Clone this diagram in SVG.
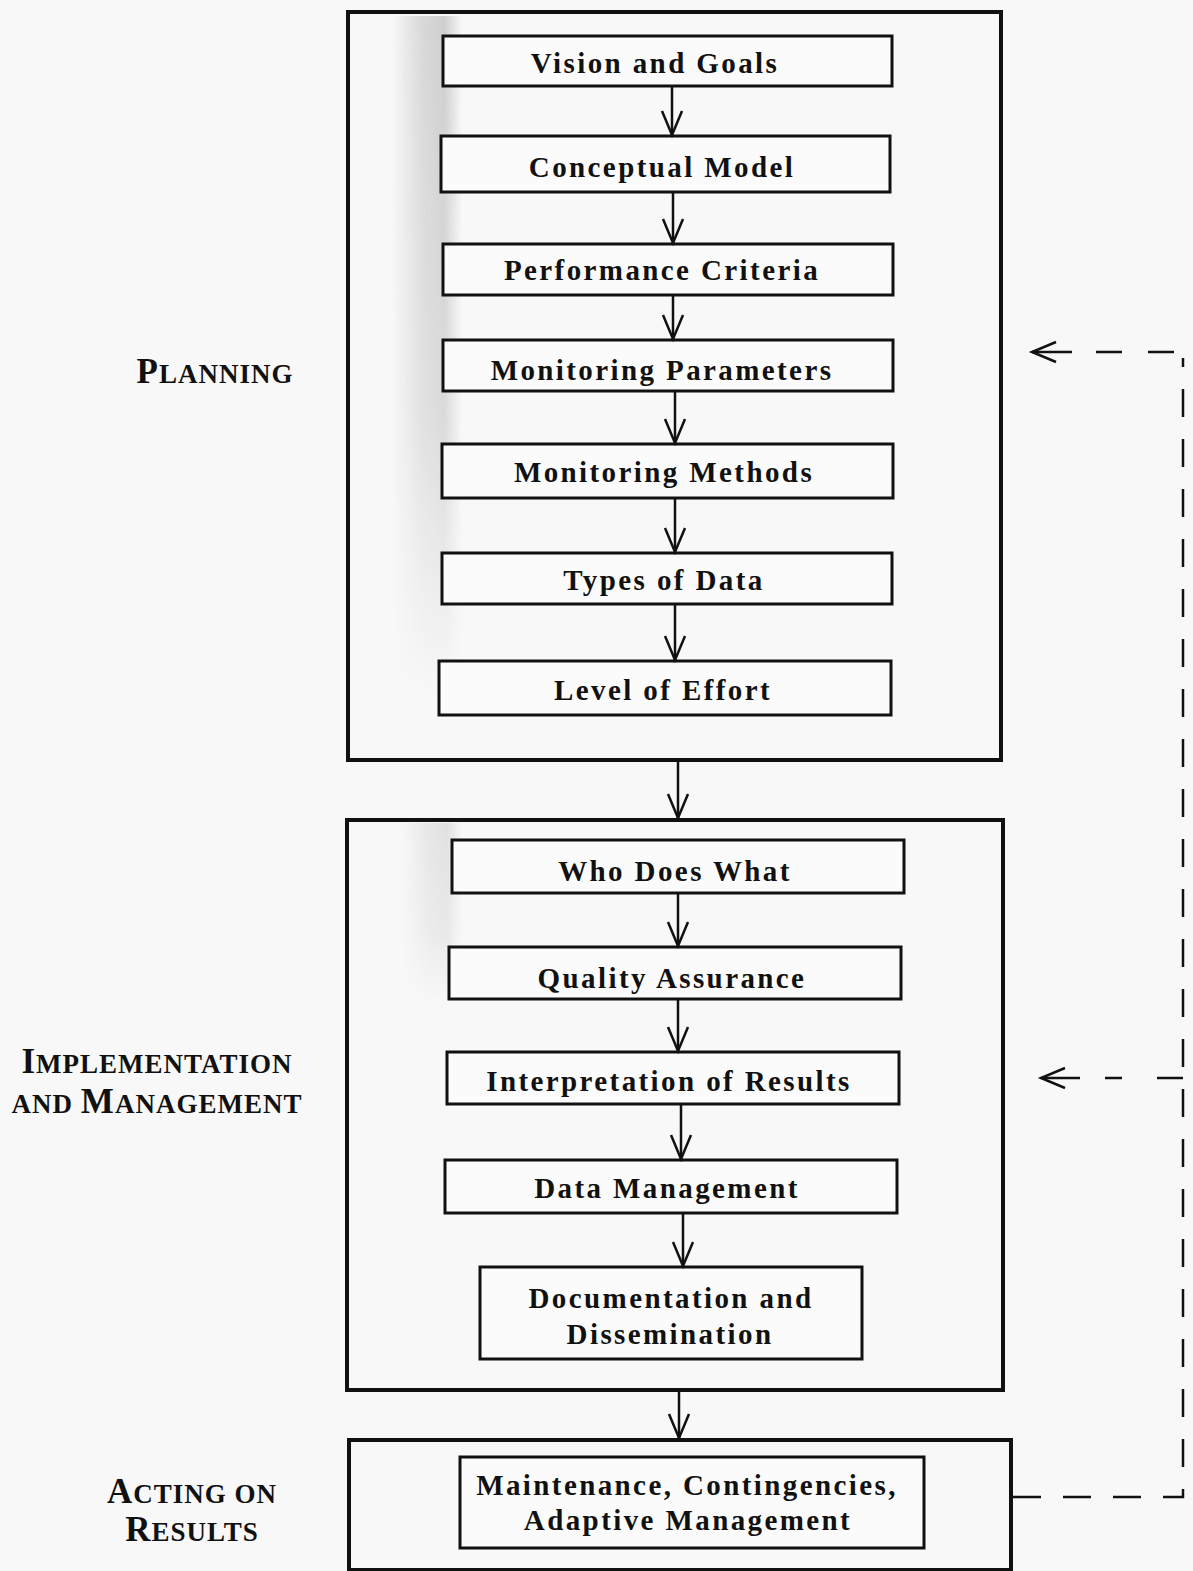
<svg xmlns="http://www.w3.org/2000/svg" width="1193" height="1571" viewBox="0 0 1193 1571">
<style>
.outer{fill:none;stroke:#111;stroke-width:4}
.box{fill:#fbfbfb;stroke:#111;stroke-width:3}
.t{font-family:"Liberation Serif","Times New Roman",serif;font-weight:bold;font-size:29px;letter-spacing:2.4px;fill:#111;text-anchor:middle}
.lab{font-family:"Liberation Serif","Times New Roman",serif;font-weight:bold;fill:#111;letter-spacing:1px;text-anchor:middle}
.big{font-size:35px}
.sm{font-size:27px}
.arr{fill:none;stroke:#111;stroke-width:2.5}
.dash{fill:none;stroke:#111;stroke-width:2.5}
</style>
<defs>
<marker id="ah" viewBox="-28 -13 31 26" markerWidth="31" markerHeight="26" refX="0" refY="0" orient="auto-start-reverse" markerUnits="userSpaceOnUse" overflow="visible">
<path d="M-24,-10 L0,0 L-24,10" fill="none" stroke="#111" stroke-width="2.5" stroke-dasharray="none"/>
</marker>
<linearGradient id="shade" x1="0" y1="0" x2="1" y2="0">
<stop offset="0" stop-color="#bdbdbd" stop-opacity="0"/>
<stop offset="0.45" stop-color="#bdbdbd" stop-opacity="0.55"/>
<stop offset="0.75" stop-color="#bdbdbd" stop-opacity="0.7"/>
<stop offset="1" stop-color="#bdbdbd" stop-opacity="0"/>
</linearGradient>
<linearGradient id="fadev" x1="0" y1="0" x2="0" y2="1">
<stop offset="0" stop-color="#fff" stop-opacity="1"/>
<stop offset="0.6" stop-color="#fff" stop-opacity="0.7"/>
<stop offset="1" stop-color="#fff" stop-opacity="0"/>
</linearGradient>
<mask id="fm" maskContentUnits="objectBoundingBox"><rect x="0" y="0" width="1" height="1" fill="url(#fadev)"/></mask>
</defs>
<rect x="0" y="0" width="1193" height="1571" fill="#f8f8f8"/>

<g id="shading">
<rect x="392" y="16" width="70" height="680" fill="url(#shade)" mask="url(#fm)"/>
<rect x="402" y="823" width="60" height="180" fill="url(#shade)" opacity="0.55" mask="url(#fm)"/>
</g>

<g id="planning-group">
<rect class="outer" x="348" y="12" width="653" height="748"/>
<text class="lab" x="215" y="383"><tspan class="big">P</tspan><tspan class="sm">LANNING</tspan></text>
</g>
<g id="vision"><rect class="box" x="443" y="36" width="449" height="50"/><text class="t" x="655" y="73">Vision and Goals</text></g>
<g id="conceptual"><rect class="box" x="441" y="136" width="449" height="56"/><text class="t" x="662" y="177">Conceptual Model</text></g>
<g id="performance"><rect class="box" x="443" y="244" width="450" height="51"/><text class="t" x="662" y="280">Performance Criteria</text></g>
<g id="mon-params"><rect class="box" x="443" y="340" width="450" height="51"/><text class="t" x="662" y="380">Monitoring Parameters</text></g>
<g id="mon-methods"><rect class="box" x="442" y="444" width="451" height="54"/><text class="t" x="664" y="482">Monitoring Methods</text></g>
<g id="types"><rect class="box" x="442" y="553" width="450" height="51"/><text class="t" x="664" y="590">Types of Data</text></g>
<g id="effort"><rect class="box" x="439" y="661" width="452" height="54"/><text class="t" x="663" y="700">Level of Effort</text></g>

<g id="implementation-group">
<rect class="outer" x="347" y="820" width="656" height="570"/>
<text class="lab" x="157" y="1073"><tspan class="big">I</tspan><tspan class="sm">MPLEMENTATION</tspan></text>
<text class="lab" x="157" y="1113"><tspan class="sm">AND </tspan><tspan class="big">M</tspan><tspan class="sm">ANAGEMENT</tspan></text>
</g>
<g id="who"><rect class="box" x="452" y="840" width="452" height="53"/><text class="t" x="675" y="881">Who Does What</text></g>
<g id="quality"><rect class="box" x="449" y="947" width="452" height="52"/><text class="t" x="672" y="988">Quality Assurance</text></g>
<g id="interp"><rect class="box" x="447" y="1052" width="452" height="52"/><text class="t" x="669" y="1091">Interpretation of Results</text></g>
<g id="datamgmt"><rect class="box" x="445" y="1160" width="452" height="53"/><text class="t" x="667" y="1198">Data Management</text></g>
<g id="doc"><rect class="box" x="480" y="1267" width="382" height="92"/><text class="t" x="671" y="1308">Documentation and</text><text class="t" x="670" y="1344">Dissemination</text></g>

<g id="acting-group">
<rect class="outer" x="349" y="1440" width="662" height="130"/>
<text class="lab" x="192" y="1503"><tspan class="big">A</tspan><tspan class="sm">CTING ON</tspan></text>
<text class="lab" x="192" y="1541"><tspan class="big">R</tspan><tspan class="sm">ESULTS</tspan></text>
</g>
<g id="maint"><rect class="box" x="460" y="1457" width="464" height="91"/><text class="t" x="687" y="1495">Maintenance, Contingencies,</text><text class="t" x="688" y="1530">Adaptive Management</text></g>

<g id="connectors">
<path class="arr" d="M672,86 V135" marker-end="url(#ah)"/>
<path class="arr" d="M673,192 V243" marker-end="url(#ah)"/>
<path class="arr" d="M673,295 V339" marker-end="url(#ah)"/>
<path class="arr" d="M675,391 V443" marker-end="url(#ah)"/>
<path class="arr" d="M675,498 V552" marker-end="url(#ah)"/>
<path class="arr" d="M675,604 V660" marker-end="url(#ah)"/>
<path class="arr" d="M678,762 V818" marker-end="url(#ah)"/>
<path class="arr" d="M678,893 V946" marker-end="url(#ah)"/>
<path class="arr" d="M678,999 V1051" marker-end="url(#ah)"/>
<path class="arr" d="M681,1104 V1159" marker-end="url(#ah)"/>
<path class="arr" d="M683,1213 V1266" marker-end="url(#ah)"/>
<path class="arr" d="M679,1392 V1438" marker-end="url(#ah)"/>
<path class="dash" d="M1013,1497 H1183 V358" stroke-dasharray="28 22"/>
<path class="dash" d="M1032,352 H1174" stroke-dasharray="40 24 26 26 26" marker-start="url(#ah)"/>
<path class="dash" d="M1041,1078 H1183" stroke-dasharray="39 25 17 35 26" marker-start="url(#ah)"/>
</g>
</svg>
